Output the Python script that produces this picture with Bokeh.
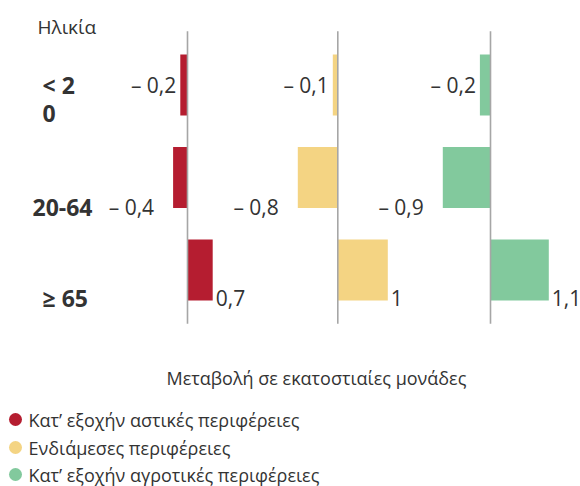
from bokeh.plotting import figure
from bokeh.models import Range1d, ColumnDataSource
from bokeh.embed import file_html
from bokeh.resources import INLINE
from bokeh.core.properties import value

# ---- data ----
categories = ["< 20", "20-64", "≥ 65"]
tick_labels = ["< 2\n0", "20-64", "≥ 65"]
series_names = ["Κατ’ εξοχήν αστικές περιφέρειες",
                "Ενδιάμεσες περιφέρειες",
                "Κατ’ εξοχήν αγροτικές περιφέρειες"]
urban = [-0.2, -0.4, 0.7]
intermediate = [-0.1, -0.8, 1.0]
rural = [-0.2, -0.9, 1.1]
title_text = "Ηλικία"
axis_label = "Μεταβολή σε εκατοστιαίες μονάδες"

# ---- style / layout ----
colors = ["#B51D30", "#F4D483", "#82C99D"]
FONT = "Open Sans"
TXT = "#333333"
W, H = 580, 486
panel_zero_px = [187, 337.3, 490]
panel_px_per_unit = [36, 50, 53]
row_px = 92.5
row0_px = 84.5
label_dy = [0.0, 0.32, 0.30]
neg_gap = [-4, -19, -19]
pos_gap = 3
line_step = 28 / row_px

p = figure(width=W, height=H, output_backend="svg", toolbar_location=None,
           x_range=Range1d(0, W), y_range=Range1d(H, 0), min_border=0,
           outline_line_color=None, x_axis_location=None, y_axis_location=None,
           background_fill_color="white", border_fill_color="white")
p.grid.visible = False

rows = list(range(len(categories)))
p.extra_y_ranges = {"rows": Range1d(start=(H - row0_px) / row_px, end=-row0_px / row_px)}

series = [urban, intermediate, rural]
for k, vals in enumerate(series):
    name = f"p{k}"
    z, s = panel_zero_px[k], panel_px_per_unit[k]
    p.extra_x_ranges[name] = Range1d(-z / s, (W - z) / s)
    p.hbar(y=rows, left=0, right=vals, height=0.66, color=colors[k],
           line_color=None, x_range_name=name, y_range_name="rows")
    p.segment(x0=[0], x1=[0], y0=[-0.58], y1=[2.58], line_color="#a6a6a6",
              line_width=1.6, x_range_name=name, y_range_name="rows")
    labels, aligns, offs, ys = [], [], [], []
    for r, v in enumerate(vals):
        t = f"{abs(v):g}".replace(".", ",")
        if v < 0:
            labels.append("– " + t); aligns.append("right"); offs.append(neg_gap[r])
        else:
            labels.append(t); aligns.append("left"); offs.append(pos_gap)
        ys.append(r + label_dy[r])
    src = ColumnDataSource(dict(x=vals, y=ys, t=labels, a=aligns, o=offs))
    p.text(x="x", y="y", text="t", text_align="a", x_offset="o", source=src,
           text_baseline="middle", text_font=value(FONT), text_font_size="21px",
           text_color=TXT, x_range_name=name, y_range_name="rows")

# category labels (wrapped lines drawn one below the other)
cat_x = [42, 32, 42]
cx, cy, ct = [], [], []
for r, lab in enumerate(tick_labels):
    for i, line in enumerate(lab.split("\n")):
        cx.append(cat_x[r]); cy.append(r + label_dy[r] + i * line_step); ct.append(line)
p.text(x=cx, y=cy, text=ct, text_align="left",
       text_baseline="middle", text_font=value(FONT), text_font_size="23px",
       text_font_style="bold", text_color=TXT, y_range_name="rows")

# title and axis label
p.text(x=[37], y=[26], text=[title_text], text_align="left", text_baseline="middle",
       text_font=value(FONT), text_font_size="19px", text_color=TXT)
p.text(x=[166], y=[377], text=[axis_label], text_align="left", text_baseline="middle",
       text_font=value(FONT), text_font_size="18px", text_color=TXT)

# legend
leg_y = [419, 447, 474]
p.scatter(x=[15] * 3, y=leg_y, size=13, marker="circle", color=colors, line_color=None)
p.text(x=[28] * 3, y=leg_y, text=series_names, text_align="left", text_baseline="middle",
       text_font=value(FONT), text_font_size="18px", text_color=TXT)

open("out.html", "w").write(file_html(p, INLINE))
